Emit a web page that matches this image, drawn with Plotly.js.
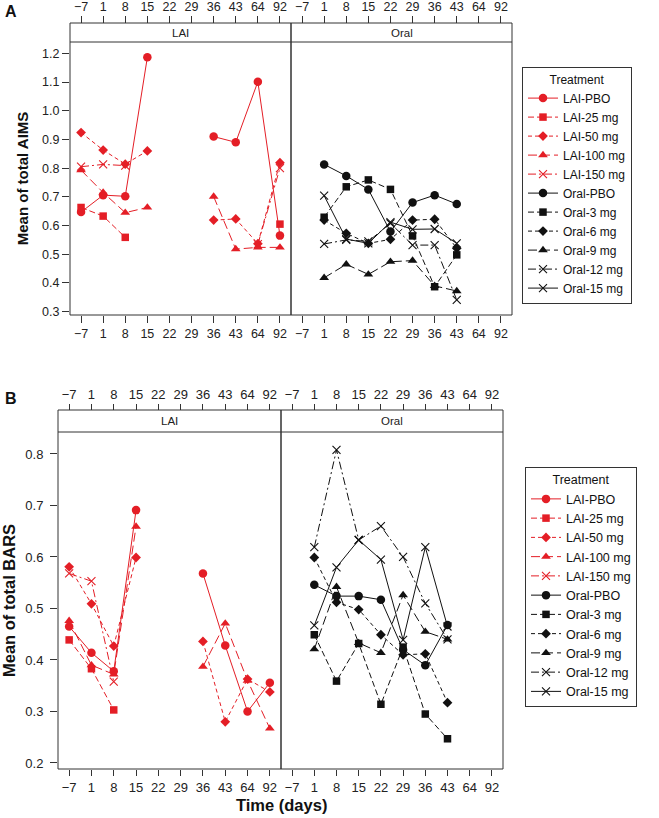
<!DOCTYPE html>
<html><head><meta charset="utf-8">
<script src="https://cdn.plot.ly/plotly-3.0.1.min.js"></script>
<style>html,body{margin:0;padding:0;background:#fff}#chart{width:659px;height:818px}</style>
</head><body><div id="chart"></div>
<script>
// ---------- DATA ----------
const days = ['−7','1','8','15','22','29','36','43','64','92'];
const lai_names  = ['LAI-PBO','LAI-25 mg','LAI-50 mg','LAI-100 mg','LAI-150 mg'];
const oral_names = ['Oral-PBO','Oral-3 mg','Oral-6 mg','Oral-9 mg','Oral-12 mg','Oral-15 mg'];

// Panel A: Mean of total AIMS
const aims_lai_pbo  = [0.647, 0.706, 0.702, 1.186, null, null, 0.910, 0.890, 1.101, 0.565];
const aims_lai_25   = [0.663, 0.633, 0.559, null, null, null, null, null, null, 0.605];
const aims_lai_50   = [0.924, 0.863, 0.814, 0.860, null, null, 0.619, 0.623, 0.537, 0.819];
const aims_lai_100  = [0.793, 0.715, 0.645, 0.663, null, null, 0.701, 0.518, 0.524, 0.524];
const aims_lai_150  = [0.805, 0.813, 0.809, null, null, null, null, null, 0.535, 0.800];
const aims_oral_pbo = [null, 0.813, 0.773, 0.726, 0.579, 0.680, 0.706, 0.675, null, null];
const aims_oral_3   = [null, 0.629, 0.735, 0.759, 0.726, 0.564, 0.387, 0.498, null, null];
const aims_oral_6   = [null, 0.619, 0.573, 0.538, 0.552, 0.619, 0.622, 0.521, null, null];
const aims_oral_9   = [null, 0.418, 0.465, 0.430, 0.474, 0.478, 0.390, 0.372, null, null];
const aims_oral_12  = [null, 0.536, 0.550, 0.545, 0.608, 0.532, 0.532, 0.341, null, null];
const aims_oral_15  = [null, 0.704, 0.553, 0.538, 0.612, 0.587, 0.588, 0.538, null, null];

// Panel B: Mean of total BARS
const bars_lai_pbo  = [0.465, 0.414, 0.378, 0.691, null, null, 0.568, 0.428, 0.300, 0.356];
const bars_lai_25   = [0.439, 0.383, 0.303, null, null, null, null, null, null, null];
const bars_lai_50   = [0.581, 0.509, 0.427, 0.599, null, null, 0.436, 0.280, 0.363, 0.338];
const bars_lai_100  = [0.476, 0.390, 0.372, 0.659, null, null, 0.387, 0.471, 0.360, 0.267];
const bars_lai_150  = [0.568, 0.553, 0.358, null, null, null, null, null, null, null];
const bars_oral_pbo = [null, 0.546, 0.524, 0.524, 0.517, 0.420, 0.390, 0.468, null, null];
const bars_oral_3   = [null, 0.449, 0.359, 0.432, 0.314, 0.425, 0.295, 0.247, null, null];
const bars_oral_6   = [null, 0.599, 0.512, 0.498, 0.449, 0.410, 0.412, 0.317, null, null];
const bars_oral_9   = [null, 0.421, 0.542, 0.433, 0.414, 0.526, 0.455, 0.440, null, null];
const bars_oral_12  = [null, 0.619, 0.808, 0.633, 0.660, 0.600, 0.510, 0.440, null, null];
const bars_oral_15  = [null, 0.467, 0.580, 0.633, 0.595, 0.439, 0.619, 0.465, null, null];

const aims_lai  = [aims_lai_pbo, aims_lai_25, aims_lai_50, aims_lai_100, aims_lai_150];
const aims_oral = [aims_oral_pbo, aims_oral_3, aims_oral_6, aims_oral_9, aims_oral_12, aims_oral_15];
const bars_lai  = [bars_lai_pbo, bars_lai_25, bars_lai_50, bars_lai_100, bars_lai_150];
const bars_oral = [bars_oral_pbo, bars_oral_3, bars_oral_6, bars_oral_9, bars_oral_12, bars_oral_15];

// ---------- STYLE ----------
const RED = '#e41e26', BLK = '#111111', AX = '#333333';
const FONT = 'Liberation Sans, Arial, Helvetica, sans-serif';
const symbols = ['circle','square','diamond','triangle-up','x-thin','x-thin'];
const msizes  = [8.5, 7.5, 7.5, 8.5, 8, 8];
const dashes  = ['solid','6px,3px','4px,3px','9px,4px','8px,3px,2px,3px','solid'];

const W = 659, H = 818;
const px = v => v / W, py = v => 1 - v / H;

function mkTrace(name, ys, i, color, xa, ya, leg) {
  const isX = symbols[i].startsWith('x');
  return {
    type: 'scatter', mode: 'lines+markers', name: name,
    x: days, y: ys, xaxis: xa, yaxis: ya, legend: leg,
    connectgaps: false, cliponaxis: false,
    line: {color: color, width: 1, dash: dashes[i]},
    marker: {symbol: symbols[i], size: msizes[i], color: color,
             line: {color: color, width: isX ? 1.1 : 0}}
  };
}

const traces = [];
lai_names.forEach((n,i) => traces.push(mkTrace(n, aims_lai[i], i, RED, 'x', 'y', 'legend')));
oral_names.forEach((n,i) => traces.push(mkTrace(n, aims_oral[i], i, BLK, 'x2', 'y', 'legend')));
lai_names.forEach((n,i) => traces.push(mkTrace(n, bars_lai[i], i, RED, 'x3', 'y2', 'legend2')));
oral_names.forEach((n,i) => traces.push(mkTrace(n, bars_oral[i], i, BLK, 'x4', 'y2', 'legend2')));

// empty carrier traces so the top (strip-side) tick axes get drawn; they plot nothing
[['x5','y'],['x6','y'],['x7','y2'],['x8','y2']].forEach(([xa, ya]) => traces.push({
  type: 'scatter', mode: 'markers', x: days, y: days.map(() => null),
  xaxis: xa, yaxis: ya, showlegend: false, hoverinfo: 'skip'
}));

// panel geometry (pixels)
const P = {
  A: {xl:[70,291], xo:[291,512], top:42, bot:315, strip:23, yr:[0.2885,1.2394], fs:12.5},
  B: {xl:[58,281], xo:[281,503], top:432, bot:769, strip:410, yr:[0.1883,0.8427], fs:13}
};

function xAx(dom, anchor, fs, tl, extra) {
  return Object.assign({
    domain: [px(dom[0]), px(dom[1])], anchor: anchor, type: 'category',
    categoryorder: 'array', categoryarray: days, range: [-0.5, 9.5],
    ticks: 'outside', ticklen: tl, tickwidth: 1, tickcolor: AX,
    tickfont: {family: FONT, size: fs, color: '#222'},
    showline: false, showgrid: false, zeroline: false, fixedrange: true
  }, extra || {});
}
function yAx(p, anchor, title, tfs, standoff, lblStand) {
  return {
    domain: [py(p.bot), py(p.top)], anchor: anchor, range: p.yr,
    dtick: 0.1, tick0: 0, tickformat: '.1f',
    ticks: 'outside', ticklen: 7, tickwidth: 1, tickcolor: AX,
    ticklabelstandoff: lblStand,
    tickfont: {family: FONT, size: p.fs, color: '#222'},
    showline: false, showgrid: false, zeroline: false, fixedrange: true,
    title: {text: title, standoff: standoff, font: {family: FONT, size: tfs, color: '#111', weight: 'bold'}}
  };
}

const layout = {
  width: W, height: H, margin: {l:0, r:0, t:0, b:0},
  paper_bgcolor: '#fff', plot_bgcolor: 'rgba(0,0,0,0)',
  font: {family: FONT, color: '#111'},
  xaxis:  xAx(P.A.xl, 'y',  P.A.fs, 7),
  xaxis2: xAx(P.A.xo, 'y',  P.A.fs, 7),
  xaxis3: xAx(P.B.xl, 'y2', P.B.fs, 6),
  xaxis4: xAx(P.B.xo, 'y2', P.B.fs, 6),
  xaxis5: xAx(P.A.xl, 'free', P.A.fs, 7, {overlaying:'x',  side:'top', position: py(P.A.strip)}),
  xaxis6: xAx(P.A.xo, 'free', P.A.fs, 7, {overlaying:'x2', side:'top', position: py(P.A.strip)}),
  xaxis7: xAx(P.B.xl, 'free', P.B.fs, 6, {overlaying:'x3', side:'top', position: py(P.B.strip)}),
  xaxis8: xAx(P.B.xo, 'free', P.B.fs, 6, {overlaying:'x4', side:'top', position: py(P.B.strip)}),
  yaxis:  yAx(P.A, 'x',  'Mean of total AIMS', 15, 9, 0),
  yaxis2: yAx(P.B, 'x3', 'Mean of total BARS', 16.5, 11.5, 4),
  legend: {
    x: px(522), y: py(67), xanchor: 'left', yanchor: 'top',
    bgcolor: '#fff', bordercolor: AX, borderwidth: 1, itemwidth: 30, tracegroupgap: 0,
    font: {family: FONT, size: 12, color: '#111'},
    title: {text: 'Treatment', side: 'top center', font: {family: FONT, size: 12, color: '#111'}}
  },
  legend2: {
    x: px(525), y: py(467), xanchor: 'left', yanchor: 'top',
    bgcolor: '#fff', bordercolor: AX, borderwidth: 1, itemwidth: 30, tracegroupgap: 0,
    font: {family: FONT, size: 12.5, color: '#111'},
    title: {text: 'Treatment', side: 'top center', font: {family: FONT, size: 12.5, color: '#111'}}
  },
  shapes: [], annotations: []
};

[P.A, P.B].forEach(p => {
  [p.xl, p.xo].forEach(xr => {
    layout.shapes.push({type:'rect', xref:'paper', yref:'paper', x0:px(xr[0]), x1:px(xr[1]),
      y0:py(p.bot), y1:py(p.strip), line:{color:AX, width:1}, fillcolor:'rgba(0,0,0,0)'});
    layout.shapes.push({type:'line', xref:'paper', yref:'paper', x0:px(xr[0]), x1:px(xr[1]),
      y0:py(p.top), y1:py(p.top), line:{color:AX, width:1}});
  });
  const sy = py((p.strip + p.top) / 2);
  layout.annotations.push({text:'LAI', xref:'paper', yref:'paper', x:px((p.xl[0]+p.xl[1])/2), y:sy,
    showarrow:false, xanchor:'center', yanchor:'middle', font:{family:FONT, size:11.5, color:'#222'}});
  layout.annotations.push({text:'Oral', xref:'paper', yref:'paper', x:px((p.xo[0]+p.xo[1])/2), y:sy,
    showarrow:false, xanchor:'center', yanchor:'middle', font:{family:FONT, size:11.5, color:'#222'}});
});
layout.annotations.push({text:'A', xref:'paper', yref:'paper', x:px(3), y:py(1), xanchor:'left', yanchor:'top',
  showarrow:false, font:{family:FONT, size:16, color:'#111', weight:'bold'}});
layout.annotations.push({text:'B', xref:'paper', yref:'paper', x:px(3), y:py(388), xanchor:'left', yanchor:'top',
  showarrow:false, font:{family:FONT, size:16, color:'#111', weight:'bold'}});
layout.annotations.push({text:'Time (days)', xref:'paper', yref:'paper', x:px(281), y:py(805),
  xanchor:'center', yanchor:'middle', showarrow:false, font:{family:FONT, size:16.5, color:'#111', weight:'bold'}});

Plotly.newPlot('chart', traces, layout, {displayModeBar:false, staticPlot:true});
</script></body></html>
